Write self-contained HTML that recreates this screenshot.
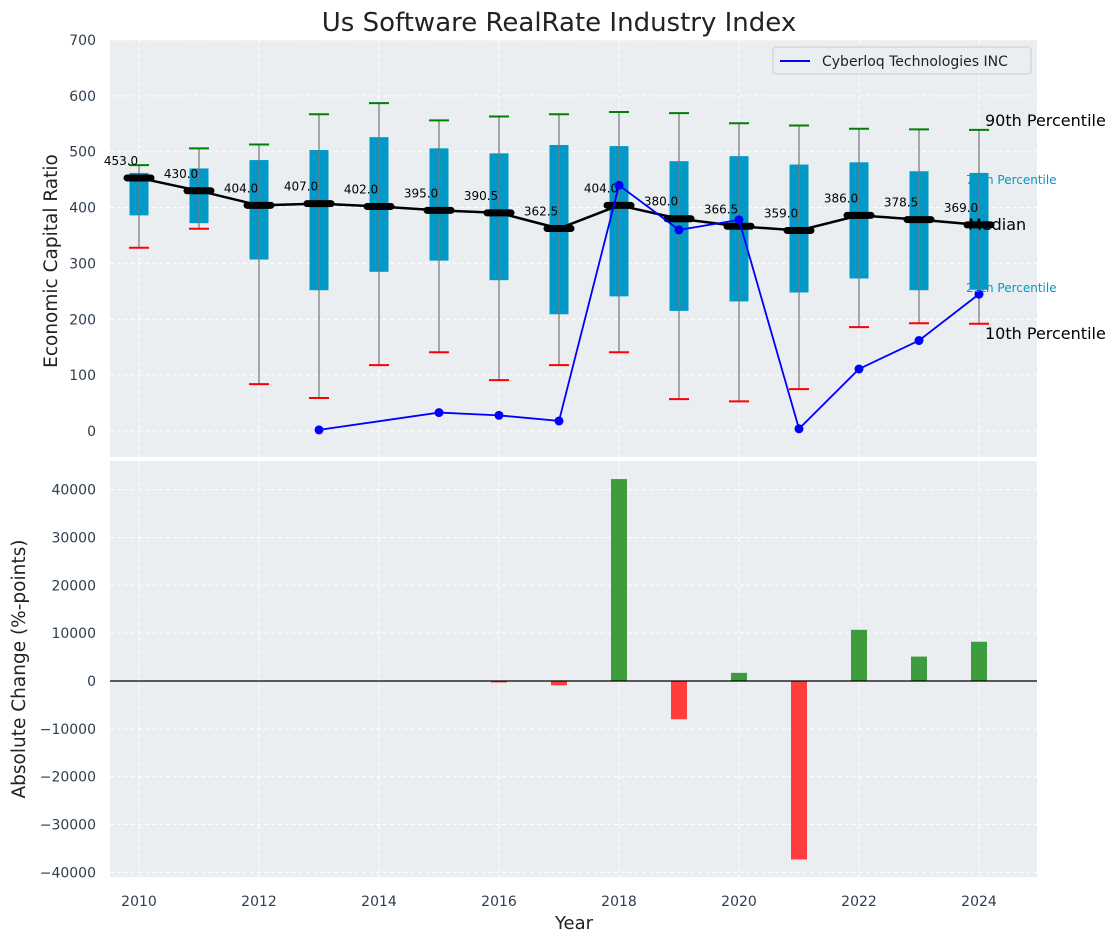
<!DOCTYPE html>
<html><head><meta charset="utf-8"><style>
body{margin:0;background:#fff;font-family:"Liberation Sans","DejaVu Sans",sans-serif}
svg text{font-family:"DejaVu Sans","Liberation Sans",sans-serif}
</style></head><body>
<svg id="c" width="1120" height="942" xmlns="http://www.w3.org/2000/svg"></svg>
<script>
const years=[2010,2011,2012,2013,2014,2015,2016,2017,2018,2019,2020,2021,2022,2023,2024];
const p10=[328,362,84,59,118,141,91,118,141,57,53,75,186,193,192];
const p25=[386,372,307,252,285,305,270,209,241,215,232,248,273,252,253];
const p75=[462,470,485,503,526,506,497,512,510,483,492,477,481,465,462];
const p90=[476,506,513,567,587,556,563,567,571,569,551,547,541,540,539];
const medians=[453,430,404,407,402,395,390.5,362.5,404,380,366.5,359,386,378.5,369];
const coYears=[2013,2015,2016,2017,2018,2019,2020,2021,2022,2023,2024];
const coVals=[2,33,28,18,440,360,378,4,111,162,245];
const chgYears=[2016,2017,2018,2019,2020,2021,2022,2023,2024];
const chgVals=[-300,-900,42200,-8000,1700,-37300,10700,5100,8200];
const yTicksTop=[0,100,200,300,400,500,600,700];
const yTicksBot=[-40000,-30000,-20000,-10000,0,10000,20000,30000,40000];
const xTicks=[2010,2012,2014,2016,2018,2020,2022,2024];

const svg=document.getElementById('c');const NS='http://www.w3.org/2000/svg';
function el(t,a,p){const e=document.createElementNS(NS,t);for(const k in a)e.setAttribute(k,a[k]);(p||svg).appendChild(e);return e;}
const X=v=>139+(v-2010)*60;
const Y1=v=>431-v*0.5586;
const Y2=v=>681-v*0.004785;
const L=110,R=1037;

let b=el('rect',{x:L,y:40,width:R-L,height:417,fill:'#eaeef0'});

b=el('rect',{x:L,y:461,width:R-L,height:416,fill:'#eaeef0'});


yTicksTop.forEach(v=>{el('line',{x1:L,x2:R,y1:Y1(v),y2:Y1(v),stroke:'#fff','stroke-dasharray':'4,3'});
 const t=el('text',{x:96,y:Y1(v)+5,'text-anchor':'end','font-size':14,fill:'#2f3e4e'});t.textContent=v;
 });
yTicksBot.forEach(v=>{el('line',{x1:L,x2:R,y1:Y2(v),y2:Y2(v),stroke:'#fff','stroke-dasharray':'4,3'});
 const t=el('text',{x:96,y:Y2(v)+5,'text-anchor':'end','font-size':14,fill:'#2f3e4e'});t.textContent=v===0?'0':(v<0?'\u2212'+(-v):v);
 });
xTicks.forEach(v=>{el('line',{x1:X(v),x2:X(v),y1:40,y2:457,stroke:'#fff','stroke-dasharray':'4,3'});
 el('line',{x1:X(v),x2:X(v),y1:461,y2:877,stroke:'#fff','stroke-dasharray':'4,3'});
 const t=el('text',{x:X(v),y:906,'text-anchor':'middle','font-size':14,fill:'#2f3e4e'});t.textContent=v;
 });

years.forEach((yr,i)=>{const x=X(yr);
 const g=el('g',{});
 el('rect',{x:x-9.5,y:Y1(p75[i]),width:19,height:Y1(p25[i])-Y1(p75[i]),fill:'#0099c8'},g);
 el('line',{x1:x,x2:x,y1:Y1(p10[i]),y2:Y1(p90[i]),stroke:'#777','stroke-width':1.2},g);
 el('line',{x1:x-10,x2:x+10,y1:Y1(p10[i]),y2:Y1(p10[i]),stroke:'red','stroke-width':2},g);
 el('line',{x1:x-10,x2:x+10,y1:Y1(p90[i]),y2:Y1(p90[i]),stroke:'green','stroke-width':2},g);
});
const mp=el('polyline',{points:years.map((y,i)=>X(y)+','+Y1(medians[i])).join(' '),fill:'none',stroke:'#000','stroke-width':2.5});

years.forEach((yr,i)=>{const m=el('line',{x1:X(yr)-12,x2:X(yr)+12,y1:Y1(medians[i]),y2:Y1(medians[i]),stroke:'#000','stroke-width':7,'stroke-linecap':'round'});
 
 const t=el('text',{x:X(yr)-18,y:Y1(medians[i])-13,'text-anchor':'middle','font-size':12,fill:'#000'});t.textContent=medians[i].toFixed(1);
 });
const cl=el('polyline',{points:coYears.map((y,i)=>X(y)+','+Y1(coVals[i])).join(' '),fill:'none',stroke:'#0000ff','stroke-width':1.8});

coYears.forEach((y,i)=>{const c=el('circle',{cx:X(y),cy:Y1(coVals[i]),r:4.5,fill:'#0000ff'});
 });
[[985,126,'90th Percentile','#000',16],[966,184,'75th Percentile','#0099c8',12],[968,230,'Median','#000',16],[966,292,'25th Percentile','#0099c8',12],[985,339,'10th Percentile','#000',16]].forEach(a=>{
 const t=el('text',{x:a[0],y:a[1],'font-size':a[4],fill:a[3]});t.textContent=a[2];
 });
const lg=el('g',{});
el('rect',{x:773,y:47,width:258,height:27,rx:3,fill:'#eaeef0',stroke:'#ccc'},lg);
el('line',{x1:780,x2:810,y1:61,y2:61,stroke:'#0000ff','stroke-width':2},lg);
const lt=el('text',{x:822,y:66,'font-size':14,fill:'#222'},lg);lt.textContent='Cyberloq Technologies INC';

chgYears.forEach((y,i)=>{const v=chgVals[i];const y0=Y2(Math.max(v,0)),y1=Y2(Math.min(v,0));
 const r=el('rect',{x:X(y)-8,y:y0,width:16,height:Math.max(y1-y0,1),fill:v>=0?'#3d9c3d':'#ff3d3d'});
 });
el('line',{x1:L,x2:R,y1:Y2(0),y2:Y2(0),stroke:'#000','stroke-width':1.2});

let t=el('text',{x:559,y:31,'text-anchor':'middle','font-size':26,fill:'#222'});t.textContent='Us Software RealRate Industry Index';

t=el('text',{x:574,y:929,'text-anchor':'middle','font-size':18,fill:'#222'});t.textContent='Year';

t=el('text',{x:0,y:0,'text-anchor':'middle','font-size':18.5,fill:'#222',transform:'translate(57,261) rotate(-90)'});t.textContent='Economic Capital Ratio';

t=el('text',{x:0,y:0,'text-anchor':'middle','font-size':18.5,fill:'#222',transform:'translate(25,669) rotate(-90)'});t.textContent='Absolute Change (%-points)';

</script>
</body></html>
